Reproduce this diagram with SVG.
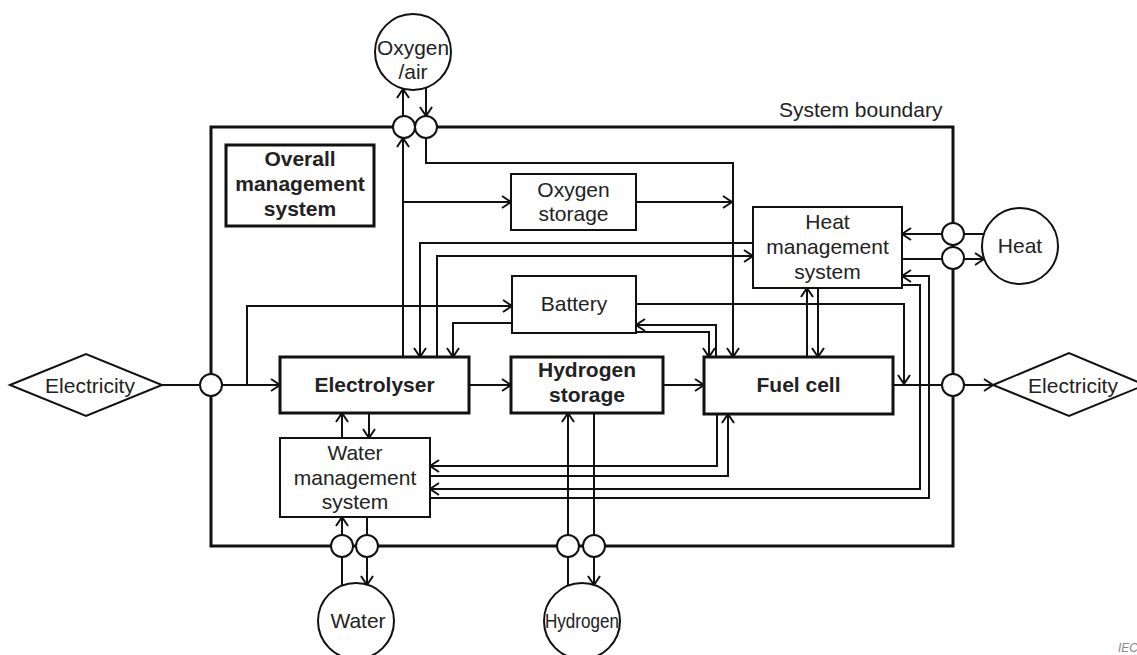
<svg xmlns="http://www.w3.org/2000/svg" width="1137" height="655" viewBox="0 0 1137 655">
<defs>
<style>
text{font-family:"Liberation Sans",Arial,sans-serif;font-size:21px;fill:#222;text-anchor:middle}
.b{font-weight:bold}
.n{fill:#fff;stroke:#111;stroke-width:2}
.k{fill:#fff;stroke:#111;stroke-width:3}
.c path{fill:none;stroke:#111;stroke-width:2;stroke-linejoin:miter}
.p{fill:#fff;stroke:#111;stroke-width:2}
</style>
<marker id="a" markerWidth="12" markerHeight="14" refX="10" refY="7" orient="auto" markerUnits="userSpaceOnUse"><path d="M1,1 L10,7 L1,13" fill="none" stroke="#111" stroke-width="2"/></marker>
</defs>
<rect width="1137" height="655" fill="#fff"/>
<g id="boundary">
<rect x="211" y="127" width="742" height="419" fill="none" stroke="#111" stroke-width="3"/>
<text x="779" y="117" style="text-anchor:start">System boundary</text>
</g>
<g class="c" id="connectors">
<path d="M162,385 H280" marker-end="url(#a)"/>
<path d="M247,385 V306 H512" marker-end="url(#a)"/>
<path d="M469,385 H511" marker-end="url(#a)"/>
<path d="M663,385 H704" marker-end="url(#a)"/>
<path d="M893,385 H993" marker-end="url(#a)"/>
<path d="M636,304 H904 V384" marker-end="url(#a)"/>
<path d="M512,323 H453 V357" marker-end="url(#a)"/>
<path d="M716,357 V325 H636" marker-end="url(#a)"/>
<path d="M636,332 H709 V357" marker-end="url(#a)"/>
<path d="M403,357 V138" marker-end="url(#a)"/>
<path d="M403,116 V89" marker-end="url(#a)"/>
<path d="M403,202 H511" marker-end="url(#a)"/>
<path d="M426,88 V116" marker-end="url(#a)"/>
<path d="M426,138 V163 H733 V357" marker-end="url(#a)"/>
<path d="M636,202 H732" marker-end="url(#a)"/>
<path d="M753,243 H420 V357" marker-end="url(#a)"/>
<path d="M437,357 V256 H753" marker-end="url(#a)"/>
<path d="M984,234 H902" marker-end="url(#a)"/>
<path d="M902,259 H984" marker-end="url(#a)"/>
<path d="M807,357 V288" marker-end="url(#a)"/>
<path d="M818,288 V357" marker-end="url(#a)"/>
<path d="M902,285 H920 V489 H430" marker-end="url(#a)"/>
<path d="M430,498 H929 V276 H902" marker-end="url(#a)"/>
<path d="M717,414 V466 H430" marker-end="url(#a)"/>
<path d="M430,476 H728 V414" marker-end="url(#a)"/>
<path d="M342,438 V413" marker-end="url(#a)"/>
<path d="M369,413 V438" marker-end="url(#a)"/>
<path d="M342,586 V517" marker-end="url(#a)"/>
<path d="M367,517 V585" marker-end="url(#a)"/>
<path d="M568,586 V413" marker-end="url(#a)"/>
<path d="M594,413 V585" marker-end="url(#a)"/>
</g>
<g id="ports">
<circle class="p" cx="404" cy="127" r="11"/>
<circle class="p" cx="426" cy="127" r="11"/>
<circle class="p" cx="211" cy="385" r="11"/>
<circle class="p" cx="953" cy="385" r="11"/>
<circle class="p" cx="953" cy="234" r="11"/>
<circle class="p" cx="953" cy="258" r="11"/>
<circle class="p" cx="342" cy="546" r="11"/>
<circle class="p" cx="367" cy="546" r="11"/>
<circle class="p" cx="568" cy="546" r="11"/>
<circle class="p" cx="594" cy="546" r="11"/>
</g>
<g id="overall">
<rect class="k" x="226" y="145" width="148" height="81"/>
<text class="b" x="300" y="166">Overall</text>
<text class="b" x="300" y="191">management</text>
<text class="b" x="300" y="216">system</text>
</g>
<g id="oxygen-storage">
<rect class="n" x="511" y="174" width="125" height="56"/>
<text x="573.5" y="197">Oxygen</text>
<text x="573.5" y="221">storage</text>
</g>
<g id="heat-management">
<rect class="n" x="753" y="207" width="149" height="81"/>
<text x="827.5" y="229">Heat</text>
<text x="827.5" y="254">management</text>
<text x="827.5" y="279">system</text>
</g>
<g id="battery">
<rect class="n" x="512" y="276" width="124" height="57"/>
<text x="574" y="311">Battery</text>
</g>
<g id="electrolyser">
<rect class="k" x="280" y="357" width="189" height="56"/>
<text class="b" x="374.5" y="392">Electrolyser</text>
</g>
<g id="hydrogen-storage">
<rect class="k" x="511" y="357" width="152" height="56"/>
<text class="b" x="587" y="377">Hydrogen</text>
<text class="b" x="587" y="402">storage</text>
</g>
<g id="fuel-cell">
<rect class="k" x="704" y="357" width="189" height="57"/>
<text class="b" x="798.5" y="392">Fuel cell</text>
</g>
<g id="water-management">
<rect class="n" x="280" y="438" width="150" height="79"/>
<text x="355" y="460">Water</text>
<text x="355" y="485">management</text>
<text x="355" y="509">system</text>
</g>
<g id="oxygen-air">
<circle class="n" cx="413" cy="52" r="38"/>
<text x="413" y="55" textLength="72" lengthAdjust="spacingAndGlyphs">Oxygen</text>
<text x="413" y="79">/air</text>
</g>
<g id="heat">
<circle class="n" cx="1020" cy="246" r="38"/>
<text x="1020" y="253">Heat</text>
</g>
<g id="water">
<circle class="n" cx="356" cy="621" r="38"/>
<text x="358" y="628">Water</text>
</g>
<g id="hydrogen">
<circle class="n" cx="582" cy="621" r="38"/>
<text x="582" y="628" textLength="74" lengthAdjust="spacingAndGlyphs">Hydrogen</text>
</g>
<g id="electricity-in">
<polygon class="n" points="10,385 86,354 162,385 86,416"/>
<text x="90" y="393">Electricity</text>
</g>
<g id="electricity-out">
<polygon class="n" points="993,385 1069,353 1145,385 1069,416"/>
<text x="1073" y="393">Electricity</text>
</g>
<text x="1118" y="652" style="text-anchor:start;font-size:12px;font-style:italic;fill:#888">IEC</text>
</svg>
